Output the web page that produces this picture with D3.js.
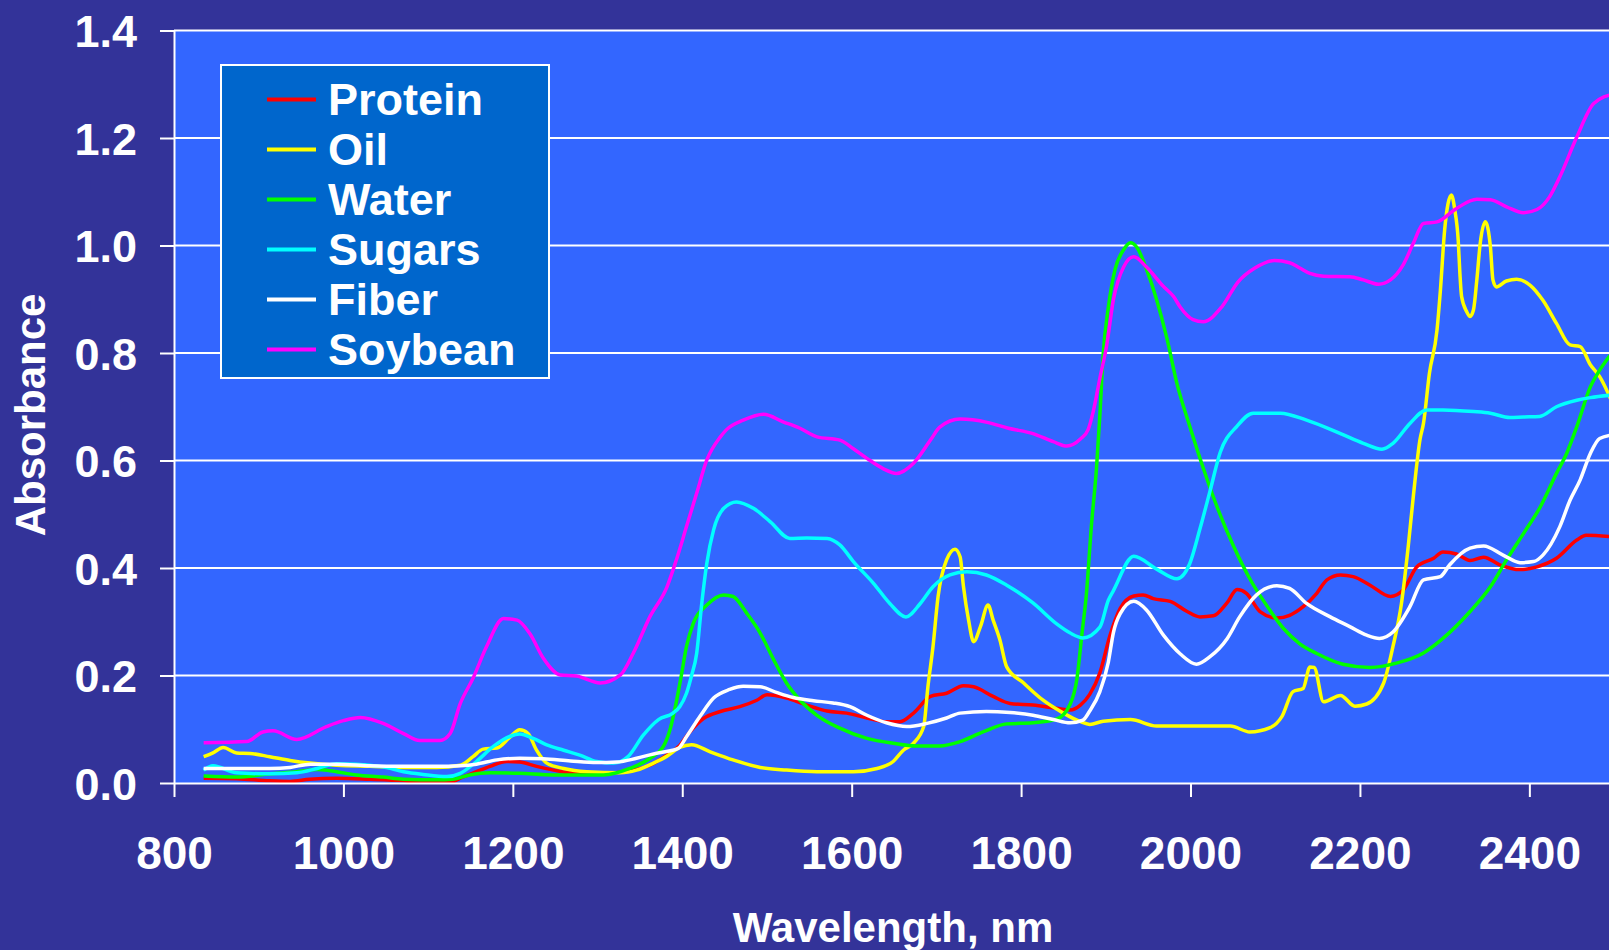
<!DOCTYPE html>
<html>
<head>
<meta charset="utf-8">
<script src="https://cdn.jsdelivr.net/npm/d3@7"></script>
<style>
  html, body { margin: 0; padding: 0; background: #333399; }
  svg { display: block; }
  text { font-family: "Liberation Sans", Arial, Helvetica, sans-serif; font-weight: bold; fill: #ffffff; }
</style>
</head>
<body>
<svg id="chart" width="1609" height="950"></svg>
<script>
// NIR absorbance spectra: [wavelength nm, absorbance]
const protein = [[835,0.009],[874,0.008],[913,0.004],[937,0.003],[960,0.007],[992,0.009],[1031,0.007],[1071,0.004],[1094,0.001],[1126,0.001],[1138,0.009],[1157,0.021],[1173,0.031],[1193,0.040],[1208,0.039],[1228,0.031],[1248,0.024],[1268,0.019],[1307,0.018],[1338,0.023],[1362,0.033],[1382,0.052],[1397,0.070],[1409,0.095],[1425,0.120],[1445,0.133],[1468,0.142],[1488,0.154],[1500,0.164],[1523,0.158],[1547,0.145],[1571,0.134],[1594,0.130],[1618,0.121],[1641,0.114],[1657,0.114],[1673,0.130],[1693,0.161],[1712,0.167],[1732,0.181],[1744,0.179],[1767,0.161],[1787,0.148],[1814,0.145],[1842,0.139],[1858,0.136],[1870,0.145],[1881,0.165],[1893,0.205],[1905,0.275],[1917,0.325],[1933,0.348],[1944,0.350],[1956,0.343],[1976,0.338],[1996,0.319],[2011,0.309],[2027,0.311],[2043,0.335],[2055,0.360],[2066,0.353],[2082,0.319],[2102,0.307],[2117,0.312],[2133,0.328],[2149,0.353],[2161,0.378],[2177,0.387],[2192,0.384],[2212,0.368],[2236,0.347],[2251,0.359],[2267,0.402],[2287,0.418],[2298,0.430],[2314,0.426],[2330,0.414],[2346,0.420],[2365,0.406],[2389,0.397],[2409,0.402],[2432,0.418],[2456,0.452],[2467,0.461],[2500,0.458]];

const oil = [[835,0.049],[846,0.056],[858,0.066],[874,0.056],[890,0.055],[913,0.049],[937,0.042],[961,0.037],[992,0.033],[1031,0.031],[1071,0.029],[1110,0.029],[1138,0.033],[1153,0.049],[1165,0.063],[1181,0.065],[1197,0.086],[1208,0.099],[1218,0.092],[1228,0.061],[1240,0.037],[1260,0.027],[1287,0.021],[1327,0.019],[1346,0.024],[1366,0.037],[1382,0.050],[1397,0.066],[1411,0.071],[1433,0.058],[1460,0.043],[1492,0.029],[1523,0.024],[1559,0.021],[1602,0.021],[1630,0.027],[1649,0.040],[1661,0.061],[1673,0.074],[1685,0.105],[1690,0.179],[1696,0.254],[1702,0.347],[1712,0.415],[1722,0.435],[1728,0.421],[1732,0.365],[1738,0.303],[1744,0.263],[1752,0.291],[1761,0.331],[1767,0.303],[1775,0.266],[1783,0.216],[1803,0.186],[1826,0.154],[1850,0.130],[1870,0.114],[1881,0.109],[1897,0.115],[1929,0.118],[1960,0.106],[1999,0.106],[2047,0.106],[2070,0.095],[2094,0.103],[2108,0.124],[2121,0.170],[2133,0.176],[2141,0.216],[2146,0.215],[2157,0.151],[2177,0.163],[2194,0.143],[2208,0.147],[2228,0.186],[2239,0.254],[2249,0.334],[2257,0.440],[2263,0.533],[2271,0.640],[2275,0.669],[2282,0.762],[2291,0.843],[2295,0.917],[2300,1.029],[2304,1.078],[2308,1.094],[2312,1.066],[2316,1.010],[2318,0.948],[2320,0.905],[2326,0.877],[2330,0.868],[2334,0.880],[2338,0.936],[2342,1.004],[2348,1.044],[2354,0.998],[2357,0.936],[2361,0.923],[2373,0.934],[2385,0.937],[2401,0.926],[2416,0.898],[2432,0.855],[2448,0.815],[2460,0.812],[2472,0.778],[2483,0.756],[2500,0.700]];

const water = [[835,0.013],[874,0.011],[913,0.017],[945,0.021],[969,0.025],[984,0.023],[1015,0.015],[1047,0.011],[1071,0.007],[1110,0.006],[1129,0.007],[1149,0.015],[1173,0.019],[1208,0.018],[1248,0.015],[1307,0.015],[1338,0.027],[1362,0.046],[1378,0.069],[1386,0.102],[1393,0.151],[1399,0.201],[1405,0.254],[1413,0.297],[1429,0.331],[1449,0.350],[1460,0.347],[1476,0.316],[1492,0.279],[1508,0.229],[1523,0.186],[1539,0.154],[1559,0.126],[1586,0.102],[1618,0.083],[1649,0.074],[1677,0.069],[1704,0.069],[1728,0.077],[1755,0.095],[1783,0.110],[1814,0.112],[1842,0.119],[1858,0.147],[1866,0.195],[1872,0.280],[1877,0.350],[1883,0.479],[1889,0.586],[1893,0.685],[1897,0.800],[1903,0.885],[1911,0.956],[1921,0.992],[1929,1.005],[1937,0.996],[1948,0.956],[1960,0.899],[1972,0.828],[1984,0.743],[1999,0.664],[2015,0.586],[2031,0.515],[2051,0.440],[2070,0.380],[2090,0.330],[2110,0.287],[2129,0.259],[2149,0.241],[2180,0.221],[2212,0.215],[2243,0.223],[2275,0.242],[2298,0.269],[2330,0.319],[2354,0.365],[2373,0.415],[2393,0.464],[2413,0.514],[2432,0.576],[2444,0.613],[2456,0.663],[2472,0.737],[2483,0.768],[2500,0.805]];

const sugars = [[835,0.024],[846,0.032],[874,0.019],[913,0.017],[945,0.019],[969,0.027],[992,0.036],[1015,0.035],[1047,0.030],[1071,0.021],[1094,0.016],[1122,0.012],[1138,0.018],[1157,0.040],[1177,0.068],[1197,0.087],[1208,0.091],[1224,0.083],[1240,0.071],[1260,0.061],[1279,0.052],[1299,0.040],[1319,0.037],[1336,0.049],[1354,0.089],[1372,0.118],[1389,0.130],[1397,0.142],[1405,0.167],[1411,0.200],[1417,0.241],[1423,0.334],[1429,0.409],[1437,0.471],[1449,0.511],[1464,0.523],[1484,0.511],[1504,0.486],[1527,0.455],[1547,0.456],[1571,0.455],[1586,0.443],[1602,0.412],[1626,0.371],[1645,0.334],[1664,0.309],[1681,0.334],[1696,0.365],[1716,0.387],[1736,0.393],[1759,0.387],[1783,0.368],[1814,0.335],[1842,0.296],[1858,0.279],[1873,0.270],[1893,0.290],[1903,0.340],[1909,0.358],[1933,0.422],[1960,0.398],[1984,0.380],[1999,0.408],[2011,0.472],[2023,0.543],[2035,0.615],[2055,0.664],[2074,0.688],[2106,0.688],[2137,0.675],[2177,0.650],[2204,0.632],[2226,0.621],[2239,0.632],[2259,0.669],[2279,0.694],[2298,0.694],[2334,0.691],[2354,0.688],[2377,0.680],[2393,0.681],[2412,0.682],[2432,0.700],[2456,0.712],[2472,0.717],[2500,0.722]];

const fiber = [[835,0.027],[874,0.027],[913,0.027],[937,0.029],[961,0.035],[992,0.035],[1031,0.032],[1071,0.031],[1110,0.031],[1138,0.032],[1157,0.035],[1181,0.043],[1208,0.046],[1236,0.045],[1268,0.041],[1299,0.038],[1323,0.039],[1346,0.046],[1366,0.054],[1386,0.060],[1395,0.064],[1405,0.086],[1421,0.124],[1437,0.158],[1456,0.174],[1472,0.180],[1492,0.179],[1512,0.168],[1531,0.159],[1555,0.153],[1578,0.149],[1598,0.142],[1618,0.126],[1641,0.112],[1665,0.105],[1689,0.111],[1712,0.121],[1728,0.130],[1759,0.133],[1787,0.131],[1814,0.126],[1838,0.118],[1858,0.112],[1873,0.117],[1881,0.134],[1893,0.170],[1903,0.225],[1909,0.280],[1917,0.315],[1933,0.338],[1948,0.322],[1968,0.275],[1988,0.240],[2007,0.221],[2023,0.235],[2043,0.268],[2058,0.309],[2078,0.350],[2102,0.367],[2117,0.362],[2137,0.334],[2165,0.309],[2188,0.291],[2208,0.275],[2223,0.269],[2239,0.281],[2259,0.328],[2275,0.378],[2295,0.384],[2306,0.406],[2330,0.437],[2346,0.441],[2369,0.424],[2389,0.410],[2405,0.412],[2416,0.424],[2436,0.477],[2448,0.526],[2460,0.564],[2472,0.613],[2483,0.641],[2500,0.648]];

const soybean = [[835,0.075],[886,0.077],[905,0.095],[917,0.097],[945,0.081],[980,0.105],[1000,0.116],[1020,0.122],[1047,0.111],[1071,0.092],[1090,0.079],[1114,0.079],[1126,0.092],[1138,0.148],[1153,0.195],[1169,0.254],[1189,0.306],[1205,0.303],[1220,0.278],[1236,0.232],[1256,0.201],[1275,0.199],[1303,0.186],[1327,0.201],[1342,0.241],[1362,0.310],[1382,0.365],[1393,0.415],[1405,0.477],[1417,0.539],[1429,0.601],[1445,0.644],[1452,0.657],[1472,0.675],[1496,0.686],[1519,0.672],[1539,0.660],[1559,0.644],[1586,0.638],[1602,0.622],[1618,0.604],[1637,0.585],[1653,0.576],[1673,0.595],[1693,0.638],[1704,0.662],[1728,0.677],[1760,0.671],[1785,0.660],[1814,0.650],[1838,0.635],[1854,0.627],[1870,0.640],[1879,0.657],[1885,0.690],[1893,0.753],[1901,0.814],[1909,0.899],[1921,0.960],[1933,0.979],[1948,0.960],[1968,0.924],[1980,0.905],[1988,0.885],[2003,0.862],[2015,0.858],[2037,0.886],[2056,0.932],[2076,0.958],[2099,0.972],[2117,0.968],[2129,0.958],[2141,0.948],[2157,0.943],[2188,0.942],[2204,0.936],[2222,0.928],[2236,0.936],[2251,0.964],[2263,1.004],[2275,1.041],[2291,1.044],[2314,1.069],[2338,1.086],[2354,1.085],[2373,1.072],[2393,1.061],[2409,1.067],[2424,1.091],[2436,1.128],[2456,1.202],[2476,1.264],[2500,1.282]];

const seriesNames = ["Protein", "Oil", "Water", "Sugars", "Fiber", "Soybean"];
const seriesColors = ["#ff0000", "#ffff00", "#00ff00", "#00ffff", "#ffffff", "#ff00ff"];
const seriesData = [protein, oil, water, sugars, fiber, soybean];

const xTicks = [800, 1000, 1200, 1400, 1600, 1800, 2000, 2200, 2400];
const yTicks = [0, 0.2, 0.4, 0.6, 0.8, 1.0, 1.2, 1.4];

const W = 1609, H = 950;
const plot = { left: 174, top: 30.5, bottom: 783 };

const x = d3.scaleLinear().domain([800, 2500]).range([plot.left, plot.left + 1700 * 0.8471]);
const y = d3.scaleLinear().domain([0, 1.4]).range([plot.bottom, plot.top]);

const svg = d3.select("#chart");

// page and plot backgrounds
svg.append("rect").attr("x", 0).attr("y", 0).attr("width", W).attr("height", H).attr("fill", "#333399");
svg.append("rect")
  .attr("x", plot.left).attr("y", plot.top)
  .attr("width", W - plot.left).attr("height", plot.bottom - plot.top)
  .attr("fill", "#3366ff");

// horizontal gridlines
svg.append("g").selectAll("line").data(yTicks.slice(1)).join("line")
  .attr("x1", plot.left).attr("x2", W)
  .attr("y1", d => y(d)).attr("y2", d => y(d))
  .attr("stroke", "#ffffff").attr("stroke-width", 2);

// spectra
const clip = svg.append("clipPath").attr("id", "plotClip");
clip.append("rect").attr("x", plot.left).attr("y", plot.top - 5).attr("width", W - plot.left).attr("height", plot.bottom - plot.top + 5);

const line = d3.line().x(d => x(d[0])).y(d => y(d[1])).curve(d3.curveMonotoneX);
const lines = svg.append("g").attr("clip-path", "url(#plotClip)");
seriesData.forEach((s, i) => {
  lines.append("path")
    .datum(s)
    .attr("d", line)
    .attr("fill", "none")
    .attr("stroke", seriesColors[i])
    .attr("stroke-width", 3.5)
    .attr("stroke-linejoin", "round");
});

// y axis
const yAxis = svg.append("g")
  .attr("transform", `translate(${plot.left},0)`)
  .call(d3.axisLeft(y).tickValues(yTicks).tickFormat(d3.format(".1f")).tickSize(14).tickSizeOuter(0).tickPadding(23));
yAxis.select(".domain").attr("stroke", "#ffffff").attr("stroke-width", 2);
yAxis.selectAll(".tick line").attr("stroke", "#ffffff").attr("stroke-width", 2);
yAxis.selectAll(".tick text")
  .attr("fill", "#ffffff").attr("font-size", 45).attr("dy", "0.36em")
  .style("font-family", '"Liberation Sans", Arial, sans-serif').style("font-weight", "bold");

// x axis
const xAxis = svg.append("g")
  .attr("transform", `translate(0,${plot.bottom})`)
  .call(d3.axisBottom(x).tickValues(xTicks).tickFormat(d3.format("d")).tickSize(14).tickSizeOuter(0));
xAxis.select(".domain").attr("stroke", "#ffffff").attr("stroke-width", 2);
xAxis.selectAll(".tick line").attr("stroke", "#ffffff").attr("stroke-width", 2);
xAxis.selectAll(".tick text")
  .attr("fill", "#ffffff").attr("font-size", 46).attr("y", 86).attr("dy", 0)
  .style("font-family", '"Liberation Sans", Arial, sans-serif').style("font-weight", "bold");

// axis titles
svg.append("text")
  .attr("x", 893).attr("y", 942)
  .attr("text-anchor", "middle").attr("font-size", 42)
  .text("Wavelength, nm");
svg.append("text")
  .attr("transform", "translate(45,415) rotate(-90)")
  .attr("text-anchor", "middle").attr("font-size", 42)
  .text("Absorbance");

// legend
const legend = svg.append("g");
legend.append("rect")
  .attr("x", 221).attr("y", 65).attr("width", 328).attr("height", 313)
  .attr("fill", "#0066cc").attr("stroke", "#ffffff").attr("stroke-width", 2);
seriesNames.forEach((name, i) => {
  const ry = 99.5 + i * 50;
  legend.append("line")
    .attr("x1", 267).attr("x2", 316).attr("y1", ry).attr("y2", ry)
    .attr("stroke", seriesColors[i]).attr("stroke-width", 4);
  legend.append("text")
    .attr("x", 328).attr("y", ry + 15)
    .attr("font-size", 45)
    .text(name);
});
</script>
</body>
</html>
